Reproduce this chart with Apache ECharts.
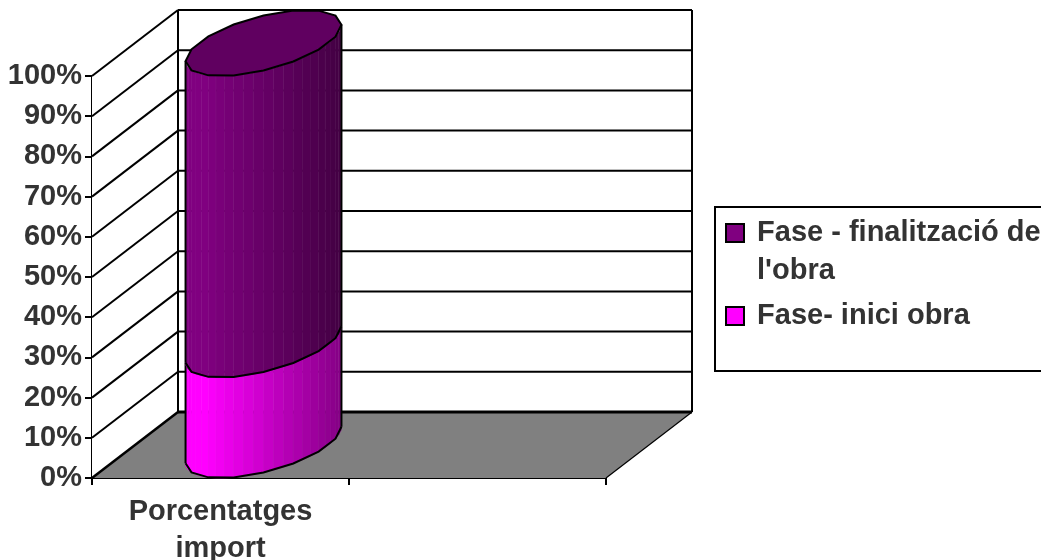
<!DOCTYPE html>
<html>
<head>
<meta charset="utf-8">
<style>html,body{margin:0;padding:0;background:#fff;overflow:hidden}#c{width:1041px;height:560px}</style>
<script src="https://cdn.jsdelivr.net/npm/echarts@6/dist/echarts.min.js"></script>
</head>
<body>
<div id="c"></div>
<script>
const categories = ['Porcentatges\nimport', ''];
const seriesNames = ['Fase- inici obra', "Fase - finalització de l'obra"];
const iniciObra = [25];
const finalitzacio = [75];
const valueTicks = [0,10,20,30,40,50,60,70,80,90,100];

const DEPTH_X = 86, DEPTH_Y = 66;
const FONT = '"Liberation Sans", Arial, sans-serif';
const TXT = '#333333';

function renderWalls(params, api) {
  const cs = params.coordSys;
  const L = cs.x, R = cs.x + cs.width;
  const y0 = api.coord([0, 0])[1], y100 = api.coord([0, 100])[1];
  const line = (x1, y1, x2, y2, w) => ({
    type: 'line', shape: {x1, y1, x2, y2},
    style: {stroke: '#000', lineWidth: w}
  });
  const kids = [];
  kids.push({type: 'polygon', shape: {points: [[L, y0], [L + DEPTH_X, y0 - DEPTH_Y], [L + DEPTH_X, y100 - DEPTH_Y], [L, y100]]}, style: {fill: '#fff'}});
  kids.push({type: 'polygon', shape: {points: [[L + DEPTH_X, y0 - DEPTH_Y], [R + DEPTH_X, y0 - DEPTH_Y], [R + DEPTH_X, y100 - DEPTH_Y], [L + DEPTH_X, y100 - DEPTH_Y]]}, style: {fill: '#fff'}});
  kids.push({type: 'polygon', shape: {points: [[L, y0], [R, y0], [R + DEPTH_X, y0 - DEPTH_Y], [L + DEPTH_X, y0 - DEPTH_Y]]}, style: {fill: '#808080'}});
  valueTicks.forEach(v => {
    const y = api.coord([0, v])[1];
    kids.push(line(L, y, L + DEPTH_X, y - DEPTH_Y, v === 0 ? 2.5 : 2));
    kids.push(line(L + DEPTH_X, y - DEPTH_Y, R + DEPTH_X, y - DEPTH_Y, v === 0 ? 3 : 2));
  });
  kids.push(line(L + DEPTH_X, y0 - DEPTH_Y, L + DEPTH_X, y100 - DEPTH_Y, 2));
  kids.push(line(R + DEPTH_X, y0 - DEPTH_Y, R + DEPTH_X, y100 - DEPTH_Y, 2));
  kids.push(line(R, y0, R + DEPTH_X, y0 - DEPTH_Y, 1.2));
  return {type: 'group', children: kids};
}

function cylinderRenderer(bright, base, capColor) {
  return function (params, api) {
    const cat = api.value(0);
    const cx = api.coord([cat, 0])[0] + DEPTH_X / 2;
    const b = api.size([1, 0])[0];
    const A = b * 0.253, B = DEPTH_X / 2, C = DEPTH_Y / 2;
    const lowVal = base[params.dataIndex];
    const highVal = lowVal + api.value(1);
    const yLow = api.coord([cat, lowVal])[1] - C;
    const yHigh = api.coord([cat, highVal])[1] - C;
    const pt = (t, yc) => [cx + A * Math.cos(t) + B * Math.sin(t), yc - C * Math.sin(t)];
    const t0 = Math.atan2(B, A);
    const N = 24, STEP = 3;
    const tAt = i => t0 - Math.PI + Math.PI * i / N;
    const kids = [];
    const halfW = Math.sqrt(A * A + B * B);
    for (let i = 0; i < N; i++) {
      const p1 = pt(tAt(i), yLow), p2 = pt(tAt(i + 1), yLow);
      const p3 = pt(tAt(i + 1), yHigh), p4 = pt(tAt(i), yHigh);
      const frac = ((p1[0] + p2[0]) / 2 - (cx - halfW)) / (2 * halfW);
      const f = frac < 0.13 ? 1 : 1 - (frac - 0.13) / 0.87 * 0.48;
      const c = Math.round(bright * f);
      const col = 'rgb(' + c + ',0,' + c + ')';
      kids.push({type: 'polygon', shape: {points: [p1, p2, p3, p4]},
        style: {fill: col, stroke: col, lineWidth: 0.6}});
      kids.push({type: 'line', shape: {x1: p2[0], y1: p2[1], x2: p3[0], y2: p3[1]},
        style: {stroke: 'rgba(255,255,255,0.1)', lineWidth: 0.8}});
    }
    const arc = [];
    for (let i = 0; i <= N; i += STEP) arc.push(pt(tAt(i), yLow));
    kids.push({type: 'polyline', shape: {points: arc}, style: {fill: 'none', stroke: '#000', lineWidth: 2}});
    const pl = pt(tAt(0), yLow), pr = pt(tAt(N), yLow);
    const tl = pt(tAt(0), yHigh), tr = pt(tAt(N), yHigh);
    kids.push({type: 'line', shape: {x1: pl[0], y1: pl[1], x2: tl[0], y2: tl[1]}, style: {stroke: '#000', lineWidth: 2}});
    kids.push({type: 'line', shape: {x1: pr[0], y1: pr[1], x2: tr[0], y2: tr[1]}, style: {stroke: '#000', lineWidth: 2}});
    if (capColor) {
      const cap = [];
      for (let i = 0; i < 2 * N; i += STEP) cap.push(pt(tAt(i), yHigh));
      kids.push({type: 'polygon', shape: {points: cap}, style: {fill: capColor, stroke: '#000', lineWidth: 2}});
    }
    return {type: 'group', children: kids};
  };
}

const chart = echarts.init(document.getElementById('c'), null, {renderer: 'canvas'});
chart.setOption({
  animation: false,
  backgroundColor: '#fff',
  grid: {left: 92, top: 76, width: 514, height: 402, outerBoundsMode: 'none'},
  graphic: [{
    type: 'rect', z: 0, silent: true,
    shape: {x: 715, y: 207, width: 400, height: 164},
    style: {fill: '#fff', stroke: '#000', lineWidth: 2}
  }],
  legend: {
    orient: 'vertical', left: 725, top: 176, padding: 0, itemWidth: 18, itemHeight: 18, itemGap: 7,
    icon: 'rect', selectedMode: false,
    textStyle: {fontFamily: FONT, fontWeight: 'bold', fontSize: 29, color: TXT, lineHeight: 38},
    data: [
      {name: seriesNames[1], itemStyle: {color: '#800080', borderColor: '#000', borderWidth: 2}},
      {name: seriesNames[0], itemStyle: {color: '#ff00ff', borderColor: '#000', borderWidth: 2}}
    ],
    formatter: n => n === seriesNames[1] ? '\n Fase - finalització de\n l\'obra' : ' ' + n
  },
  xAxis: {
    type: 'category', data: categories, boundaryGap: true,
    axisLine: {lineStyle: {color: '#000', width: 2}},
    axisTick: {show: true, length: 7, alignWithLabel: false, lineStyle: {color: '#000', width: 2}},
    axisLabel: {interval: 0, margin: 15, fontFamily: FONT, fontWeight: 'bold', fontSize: 29, color: TXT, lineHeight: 37}
  },
  yAxis: {
    type: 'value', min: 0, max: 100, interval: 10,
    splitLine: {show: false},
    axisLine: {show: true, lineStyle: {color: '#000', width: 2}},
    axisTick: {show: true, length: 7, lineStyle: {color: '#000', width: 2}},
    axisLabel: {margin: 10, formatter: '{value}%', fontFamily: FONT, fontWeight: 'bold', fontSize: 29, color: TXT}
  },
  series: [
    {type: 'custom', name: 'walls', silent: true, z: 1, clip: false, renderItem: renderWalls,
     data: [[0, 0]], encode: {x: 0, y: 1}},
    {type: 'custom', name: seriesNames[0], silent: true, z: 3, clip: false,
     itemStyle: {color: '#ff00ff'},
     renderItem: cylinderRenderer(255, iniciObra.map(() => 0), null),
     data: iniciObra.map((v, i) => [i, v]), encode: {x: 0, y: 1}},
    {type: 'custom', name: seriesNames[1], silent: true, z: 4, clip: false,
     itemStyle: {color: '#800080'},
     renderItem: cylinderRenderer(128, iniciObra, '#600060'),
     data: finalitzacio.map((v, i) => [i, v]), encode: {x: 0, y: 1}}
  ]
});
</script>
</body>
</html>
